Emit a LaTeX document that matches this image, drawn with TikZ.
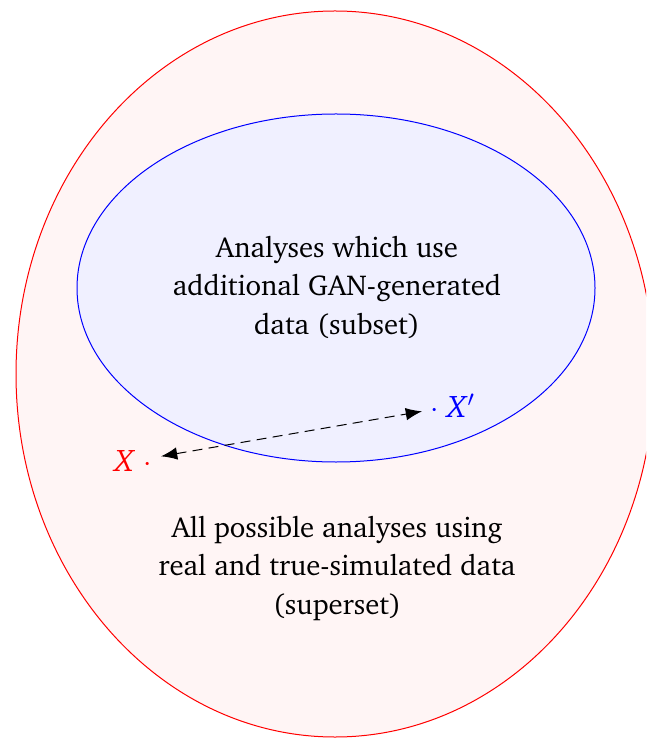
\documentclass[tikz,border=0pt]{standalone}
\usepackage[T1]{fontenc}
\usepackage{charter}
\usepackage{tikz}
\usetikzlibrary{positioning}
\usetikzlibrary{arrows.meta}

\tikzset{
  setlabel/.style={align=center,font=\fontsize{11.5}{15.4}\selectfont,text=black},
  ptlabel/.style={font=\fontsize{12.5}{15}\selectfont},
  bigtip/.tip={Latex[length=6.5pt,width=5pt]},
}

\begin{document}
\begin{tikzpicture}[x=0.4pt,y=-0.4pt]
 \useasboundingbox (0,0) rectangle (646,738);
 \clip (0,0) rectangle (646,738);
 % superset and subset
 \draw[red,fill=red!4] (335,374) ellipse [x radius=319,y radius=363];
 \draw[blue,fill=blue!6] (336,288) ellipse [x radius=259,y radius=174];
 \node[setlabel] (sub) at (337,287) {Analyses which use\\additional GAN-generated\\data (subset)};
 \node[setlabel] (sup) at (337,568) {All possible analyses using\\real and true-simulated data\\(superset)};
 % the two points
 \node[ptlabel,red,anchor=east] (x) at (161,461) {\textit{X}\;$\cdot$};
 \node[ptlabel,blue,anchor=west] (xp) at (422,406) {$\cdot$\;\textit{X}$'$};
 \draw[dash pattern=on 4pt off 2.5pt,bigtip-bigtip] (x) -- (xp);
\end{tikzpicture}
\end{document}
